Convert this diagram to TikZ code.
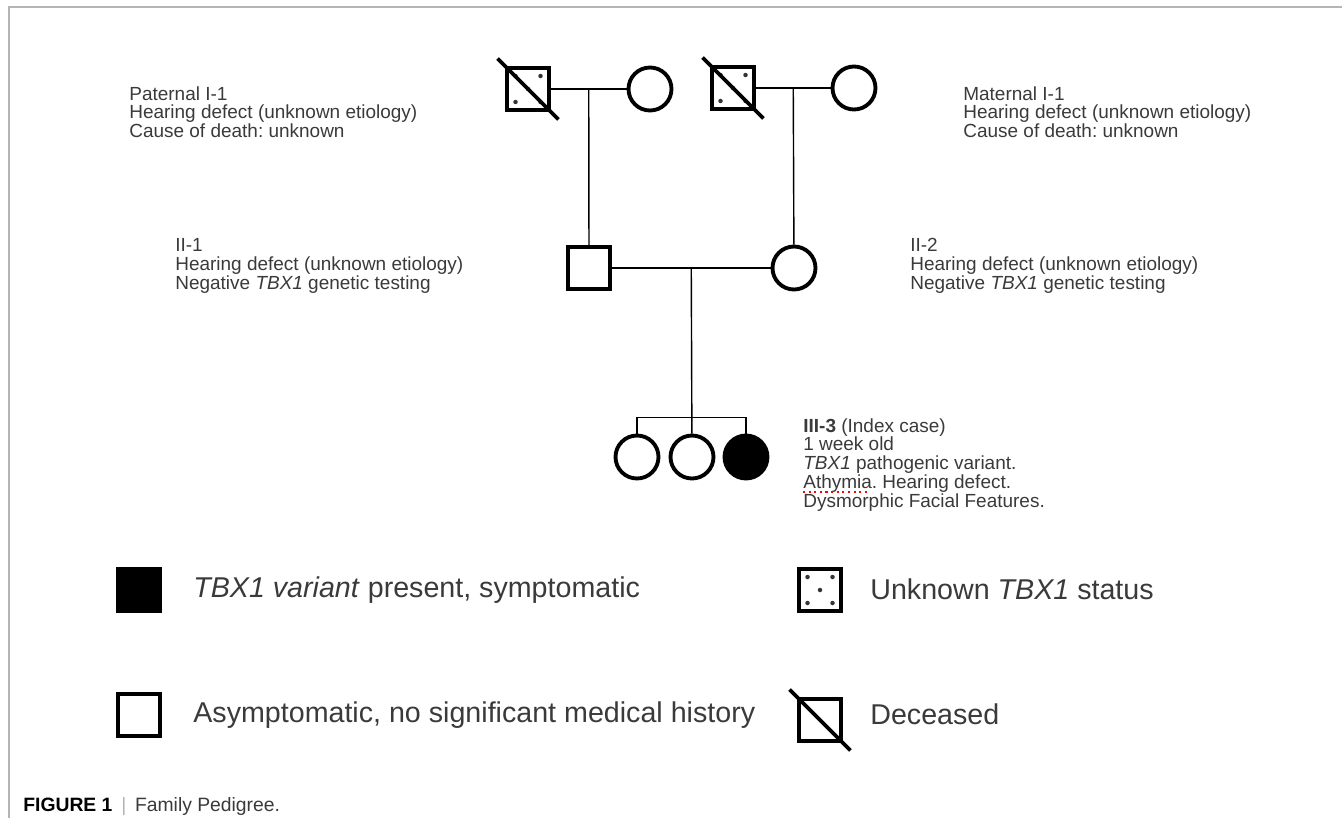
\documentclass[tikz,border=0pt]{standalone}
\usepackage{fontspec}
\setmainfont{Liberation Sans}
\usepackage{tikz}
\definecolor{txtgray}{HTML}{3A3A3A}
\definecolor{framegray}{HTML}{B4B4B4}
\frenchspacing

\begin{document}
\begin{tikzpicture}[x=0.02cm, y=-0.02cm,
                    male/.style={draw, line width=2.2pt, minimum size=0.84cm, inner sep=0pt},
                    female/.style={circle, draw, line width=2.2pt, minimum size=0.86cm, inner sep=0pt},
                    affected/.style={fill=black},
                    unknown/.style={path picture={\foreach \dx/\dy in {-1/1,1/1,0/0,-1/-1,1/-1}
                        \fill[black!80] ([shift={(\dx*0.25cm,\dy*0.26cm)}]path picture bounding box.center) circle (0.045cm);}},
                    dead/.style={line width=2.2pt},
                    link/.style={line width=0.8pt},
                    info/.style={anchor=north west, align=left, inner sep=0pt, text=txtgray, font=\fontsize{10.8}{10.7}\selectfont},
                    legend/.style={anchor=west, inner sep=0pt, text=txtgray, font=\fontsize{16.3}{18}\selectfont}]
                      \useasboundingbox (0,0) rectangle (1342,818);
                      \draw[framegray, line width=0.6pt] (9,818) -- (9,7) -- (1342,7);

                      \node[male, unknown] (pgf) at (528,89) {};
                      \node[female] (pgm) at (650,89) {};
                      \node[male, unknown] (mgf) at (733,88) {};
                      \node[female] (mgm) at (854,88) {};
                      \node[male] (fa) at (589,268) {};
                      \node[female] (mo) at (794,268) {};
                      \node[female] (sib1) at (637,457) {};
                      \node[female] (sib2) at (692,457) {};
                      \node[female, affected] (sib3) at (746,457) {};

                      \draw[dead] ([shift={(-0.15cm,0.15cm)}]pgf.north west) -- ([shift={(0.15cm,-0.15cm)}]pgf.south east);
                      \draw[dead] ([shift={(-0.15cm,0.15cm)}]mgf.north west) -- ([shift={(0.15cm,-0.15cm)}]mgf.south east);

                      \draw[link] (pgf) -- coordinate[pos=0.5] (pmid) (pgm);
                      \draw[link] (mgf) -- coordinate[pos=0.5] (mmid) (mgm);
                      \draw[link] (pmid) -- (fa);
                      \draw[link] (mmid) -- (mo);
                      \draw[link] (fa) -- coordinate[pos=0.5] (cmid) (mo);
                      \draw[link] (cmid) -- (sib2);
                      \draw[link] (sib1.north) -- ++(0,-16) -| (sib3.north);

                      \node[info] (pgftxt) at (129,86) {Paternal I-1\\Hearing defect (unknown etiology)\\Cause of death: unknown};
                      \node[info] (mgftxt) at (963,86) {Maternal I-1\\Hearing defect (unknown etiology)\\Cause of death: unknown};
                      \node[info] (fatxt) at (175,238) {II-1\\Hearing defect (unknown etiology)\\Negative \textit{TBX1} genetic testing};
                      \node[info] (motxt) at (910,238) {II-2\\Hearing defect (unknown etiology)\\Negative \textit{TBX1} genetic testing};
                      \node[info] (sib3txt) at (803,418) {\textbf{III-3} (Index case)\\1 week old\\\textit{TBX1} pathogenic variant.\\Athymia. Hearing defect.\\Dysmorphic Facial Features.};
                      \draw[red, dotted, line width=1.2pt] (803,492) -- (870,492);

                      \node[male, affected] (keyaff) at (139,590) {};
                      \node[legend] (keyafftxt) at (193,590) {\textit{TBX1 variant} present, symptomatic};
                      \node[male] (keyasy) at (139,715) {};
                      \node[legend] (keyasytxt) at (193,715) {Asymptomatic, no significant medical history};
                      \node[male, unknown] (keyunk) at (820,590) {};
                      \node[legend] (keyunktxt) at (870,589) {Unknown \textit{TBX1} status};
                      \node[male] (keydec) at (820,720) {};
                      \draw[dead] ([shift={(-0.15cm,0.15cm)}]keydec.north west) -- ([shift={(0.15cm,-0.15cm)}]keydec.south east);
                      \node[legend] (keydectxt) at (870,714) {Deceased};

                      \node[anchor=base west, inner sep=0pt, font=\fontsize{11}{12}\selectfont] (caption) at (23,811)
                          {\textbf{FIGURE 1}\hspace{5pt}{\color{framegray}|}\hspace{5pt}{\color{txtgray}Family Pedigree.}};
                  \end{tikzpicture}
\end{document}
